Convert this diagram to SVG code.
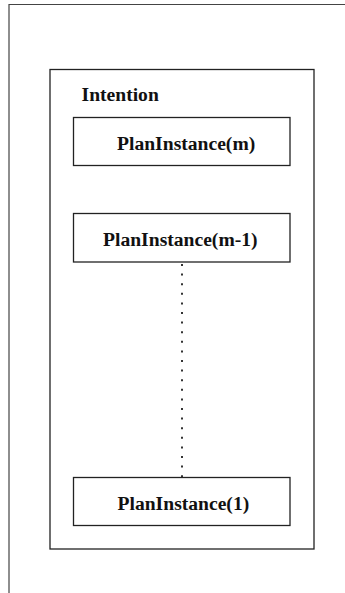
<svg xmlns="http://www.w3.org/2000/svg" width="345" height="593" viewBox="0 0 345 593">
<style>
.box{fill:#fff;stroke:#222;stroke-width:1.3}
.lbl{font-family:"Liberation Serif","Times New Roman",serif;font-weight:bold;font-size:19.6px;fill:#111}
.frame{fill:none;stroke:#444;stroke-width:1.2}
.dots{stroke:#333;stroke-width:2;stroke-dasharray:2 7.6;fill:none}
</style>
<rect width="345" height="593" fill="#fff"/>
<path class="frame" d="M9,593 V4.5 H345"/>
<g id="intention">
<rect class="box" x="50" y="69.5" width="264" height="479.5"/>
<text class="lbl" x="81.5" y="100.5">Intention</text>
</g>
<g id="connectors">
<line class="dots" x1="182" y1="264" x2="182" y2="477"/>
</g>
<g id="plan-m">
<rect class="box" x="73.5" y="117.5" width="216.5" height="48"/>
<text class="lbl" x="117" y="150">PlanInstance(m)</text>
</g>
<g id="plan-m-1">
<rect class="box" x="73.5" y="213.5" width="216.5" height="48.5"/>
<text class="lbl" x="103" y="245.5">PlanInstance(m-1)</text>
</g>
<g id="plan-1">
<rect class="box" x="73.5" y="477.5" width="216.5" height="48"/>
<text class="lbl" x="117.5" y="510">PlanInstance(1)</text>
</g>
</svg>
